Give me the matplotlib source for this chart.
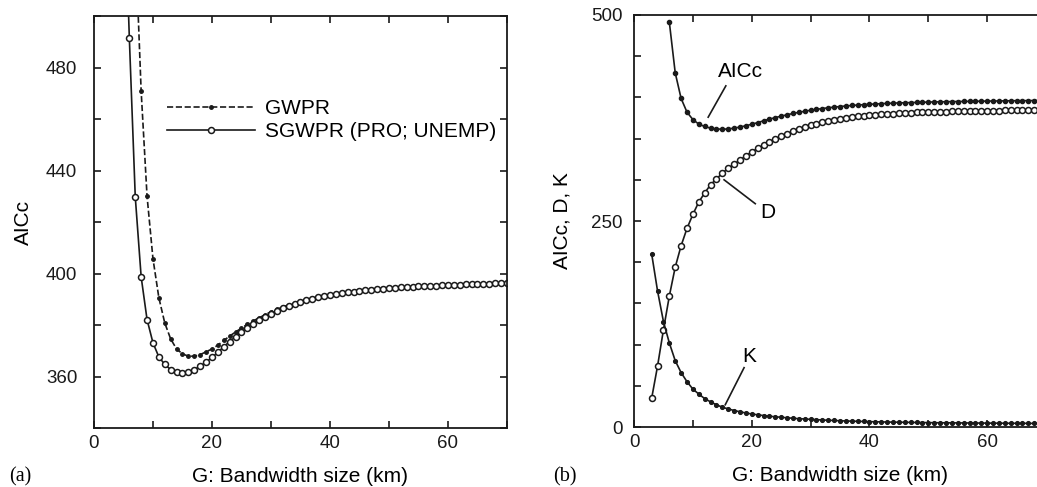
import matplotlib
matplotlib.use("Agg")
from matplotlib import pyplot as plt
from matplotlib.ticker import MultipleLocator

plt.rcParams['font.family'] = ['Liberation Sans', 'DejaVu Sans']
plt.rcParams['font.size'] = 15
plt.rcParams['xtick.labelsize'] = 13.5
plt.rcParams['ytick.labelsize'] = 13.5

# AICc of SGWPR (PRO; UNEMP), bandwidth 5..70 km (also the AICc curve of panel b)
bw_sgwpr = list(range(5, 71))
aicc_sgwpr = [560, 491.3, 429.8, 398.7, 382.1, 373.1, 367.6, 364.7, 362.7, 361.7,
              361.4, 361.7, 362.7, 364.0, 365.6, 367.4, 369.4, 371.6, 373.6, 375.5,
              377.2, 378.9, 380.5, 381.9, 383.2, 384.4, 385.5, 386.5, 387.4, 388.2,
              388.9, 389.6, 390.2, 390.7, 391.2, 391.6, 392.0, 392.4, 392.7, 393.0,
              393.3, 393.5, 393.7, 393.9, 394.1, 394.3, 394.5, 394.6, 394.8, 394.9,
              395.0, 395.1, 395.2, 395.3, 395.4, 395.5, 395.6, 395.7, 395.8, 395.9,
              396.0, 396.0, 396.1, 396.2, 396.3, 396.4]

# AICc of GWPR, bandwidth 7..70 km
bw_gwpr = list(range(7, 71))
aicc_gwpr = [530, 470.8, 430.0, 405.8, 390.6, 380.8, 374.6, 370.7, 368.8, 367.9,
             367.9, 368.5, 369.6, 370.7, 372.2, 374.0, 375.7, 377.3, 378.8, 380.3,
             381.6, 382.8, 384.0, 385.1, 386.1, 387.0, 387.8, 388.5, 389.2, 389.8,
             390.4, 390.9, 391.3, 391.7, 392.1, 392.5, 392.8, 393.1, 393.3, 393.6,
             393.8, 394.0, 394.2, 394.3, 394.5, 394.7, 394.8, 394.9, 395.0, 395.1,
             395.2, 395.3, 395.4, 395.5, 395.6, 395.7, 395.8, 395.9, 396.0, 396.0,
             396.1, 396.2, 396.3, 396.4]

# panel b: deviance D and effective number of parameters K, bandwidth 3..70 km
bw_dk = list(range(3, 71))
dev = [35, 74, 118, 159, 194, 220, 241, 258, 273, 284,
       294, 301, 308, 314, 319, 324, 329, 334, 338, 342,
       346, 350, 353, 356, 359, 362, 364, 366, 368, 370,
       371.5, 373, 374.2, 375.3, 376.2, 377, 377.8, 378.4, 379, 379.5,
       380, 380.4, 380.8, 381.1, 381.4, 381.7, 382, 382.2, 382.4, 382.6,
       382.8, 383, 383.2, 383.3, 383.5, 383.6, 383.8, 383.9, 384, 384.1,
       384.2, 384.3, 384.4, 384.5, 384.6, 384.7, 384.8, 384.9]
kpar = [210, 165, 128, 102, 80.5, 66, 55, 46, 40, 34.5,
        30.5, 27, 24, 22, 20, 18.5, 17, 15.8, 14.8, 13.9,
        13.1, 12.4, 11.8, 11.2, 10.6, 10.1, 9.7, 9.3, 8.9, 8.5,
        8.2, 7.9, 7.6, 7.3, 7.1, 6.9, 6.7, 6.5, 6.3, 6.2,
        6.0, 5.9, 5.8, 5.7, 5.6, 5.5, 5.4, 5.3, 5.2, 5.1,
        5.1, 5.0, 5.0, 4.9, 4.9, 4.8, 4.8, 4.7, 4.7, 4.6,
        4.6, 4.5, 4.5, 4.5, 4.4, 4.4, 4.4, 4.3]

ink = '#1a1a1a'

fig = plt.figure(figsize=(10.37, 4.87), dpi=100)
axa = fig.add_axes([0.0906, 0.1211, 0.3983, 0.846])
axb = fig.add_axes([0.6114, 0.1232, 0.3973, 0.846])

def style(ax, ypad):
    for s in ax.spines.values():
        s.set_linewidth(1.3)
        s.set_color(ink)
    ax.tick_params(which='both', direction='in', top=True, right=True,
                   length=5, width=1.2, colors=ink)
    ax.tick_params(axis='x', which='both', pad=5)
    ax.tick_params(axis='y', which='both', pad=ypad)
    ax.xaxis.set_major_locator(MultipleLocator(20))
    ax.xaxis.set_minor_locator(MultipleLocator(10))
    ax.set_xlim(0, 70)
    ax.set_xlabel("G: Bandwidth size (km)", labelpad=11)

# ---- panel (a)
axa.plot(bw_gwpr, aicc_gwpr, '--', color=ink, lw=1.2, marker='o', ms=2.5,
         mfc=ink, mec=ink, label='GWPR')
axa.plot(bw_sgwpr, aicc_sgwpr, '-', color=ink, lw=1.2, marker='o', ms=4.3,
         mfc='white', mec=ink, mew=1.1, label='SGWPR (PRO; UNEMP)')
axa.set_ylim(340, 500)
axa.yaxis.set_major_locator(MultipleLocator(40))
axa.yaxis.set_minor_locator(MultipleLocator(20))
style(axa, 12)
axa.set_ylabel("AICc", labelpad=9)
axa.legend(loc='upper left', bbox_to_anchor=(0.177, 0.798), frameon=False,
           borderpad=0, borderaxespad=0, handlelength=4.2, handletextpad=0.5,
           labelspacing=0.2, numpoints=1, fontsize=15)

# ---- panel (b)
axb.plot(bw_sgwpr[1:], aicc_sgwpr[1:], '-', color=ink, lw=1.2, marker='o',
         ms=3.0, mfc=ink, mec=ink)
axb.plot(bw_dk, dev, '-', color=ink, lw=1.2, marker='o', ms=4.3,
         mfc='white', mec=ink, mew=1.1)
axb.plot(bw_dk, kpar, '-', color=ink, lw=1.2, marker='o', ms=2.7,
         mfc=ink, mec=ink)
axb.set_ylim(0, 500)
axb.yaxis.set_major_locator(MultipleLocator(250))
axb.yaxis.set_minor_locator(MultipleLocator(50))
style(axb, 8)
axb.set_ylabel("AICc, D, K", labelpad=14)

axb.text(18.0, 431, "AICc", ha='center', va='center')
axb.plot([15.6, 12.6], [414, 376], color=ink, lw=1.2)
axb.text(22.8, 260, "D", ha='center', va='center')
axb.plot([15.3, 20.6], [300, 271], color=ink, lw=1.2)
axb.text(19.6, 85, "K", ha='center', va='center')
axb.plot([18.7, 15.5], [72, 27], color=ink, lw=1.2)

fig.text(20 / 1037, 1 - 477 / 487, "(a)", family=['Liberation Serif', 'DejaVu Serif'],
         fontsize=14.5, ha='center', va='center')
fig.text(565 / 1037, 1 - 477 / 487, "(b)", family=['Liberation Serif', 'DejaVu Serif'],
         fontsize=14.5, ha='center', va='center')

fig.savefig("out.png", dpi=100)
